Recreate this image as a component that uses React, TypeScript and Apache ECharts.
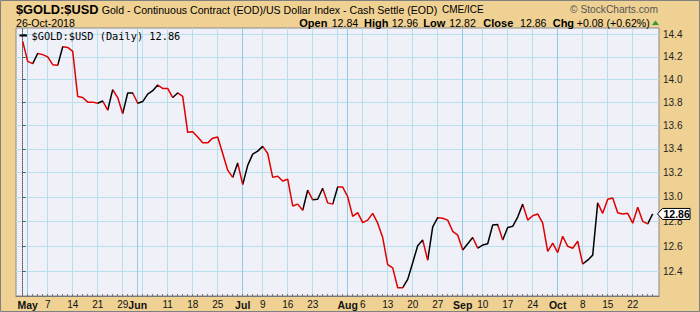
import { useEffect, useRef } from 'react';
import * as echarts from 'echarts';

// Daily closes, one per trading day from 30-Apr-2018 (index 0) to 26-Oct-2018 (index 126)
const closes = [
  14.34, 14.16, 14.14, 14.23, 14.22, 14.20, 14.13, 14.125, 14.29, 14.285,
  14.25, 13.85, 13.84, 13.80, 13.80, 13.79, 13.81, 13.73, 13.91, 13.84,
  13.70, 13.88, 13.88, 13.79, 13.805, 13.87, 13.90, 13.95, 13.92, 13.92,
  13.84, 13.88, 13.85, 13.54, 13.545, 13.50, 13.45, 13.45, 13.49, 13.50,
  13.36, 13.22, 13.16, 13.28, 13.10, 13.26, 13.355, 13.38, 13.42, 13.36,
  13.16, 13.17, 13.13, 13.145, 12.925, 12.94, 12.89, 13.055, 12.975, 12.98,
  13.07, 12.95, 12.94, 13.08, 13.08, 13.00, 12.84, 12.87, 12.79, 12.81,
  12.865, 12.785, 12.67, 12.455, 12.43, 12.275, 12.275, 12.34, 12.47, 12.605,
  12.65, 12.49, 12.755, 12.83, 12.825, 12.81, 12.72, 12.69, 12.57, 12.62,
  12.67, 12.585, 12.61, 12.62, 12.77, 12.775, 12.65, 12.75, 12.76, 12.835,
  12.94, 12.81, 12.845, 12.86, 12.785, 12.56, 12.625, 12.55, 12.68, 12.60,
  12.585, 12.64, 12.46, 12.49, 12.53, 12.95, 12.865, 12.98, 12.99, 12.87,
  12.86, 12.865, 12.785, 12.915, 12.80, 12.78, 12.86,
];

// Tone of each daily segment (segment k joins day k-1 to day k): r = down (red), k = up (black)
const segmentTone =
  'rrkrrrrkrr' + 'rrrrrkrkrr' + 'kkrkkkkrrr' + 'krrrrrrrrr' + 'rrkrkkkkrr' +
  'rrrrrrkrkk' + 'rrkrrrrrrr' + 'rrrrrrkkkk' + 'rkkrrrrrkk' + 'rkkkkrkkkk' +
  'rrrrrrrrrr' + 'rrkkkrrrrr' + 'rrrrrk';

// x-axis labels (trading-day index where each label sits)
const tickLabels = ['May', '7', '14', '21', '29', 'Jun', '11', '18', '25', 'Jul', '9', '16', '23',
  'Aug', '6', '13', '20', '27', 'Sep', '10', '17', '24', 'Oct', '8', '15', '22'];
const tickLabelIdx = [1, 5, 10, 15, 20, 23, 29, 34, 39, 44, 48, 53, 58,
  65, 68, 73, 78, 83, 88, 92, 97, 102, 107, 112, 117, 122];
const monthNames = ['May', 'Jun', 'Jul', 'Aug', 'Sep', 'Oct'];
const weekGridIdx = [5, 10, 15, 20, 24, 29, 34, 39, 48, 53, 58, 63, 68, 73, 78, 83, 92, 97, 102, 112, 117, 122];
const monthGridIdx = [1, 23, 44, 65, 88, 107];

// y-axis ticks
const priceTicks = [12.4, 12.6, 12.8, 13.0, 13.2, 13.4, 13.6, 13.8, 14.0, 14.2, 14.4];

// header
const symbolName = '$GOLD:$USD';
const description = 'Gold - Continuous Contract (EOD)/US Dollar Index - Cash Settle (EOD)';
const exchange = 'CME/ICE';
const dateText = '26-Oct-2018';
const quoteLabels = ['Open', 'High', 'Low', 'Close', 'Chg'];
const quoteValues = ['12.84', '12.96', '12.82', '12.86', '+0.08 (+0.62%)'];
const legendText = '$GOLD:$USD (Daily) 12.86';

const FONT = '"Liberation Sans", Arial, sans-serif';
const RED = '#e00000';
const BLACK = '#000000';

export default function App() {
  const ref = useRef<HTMLDivElement>(null);

  useEffect(() => {
    const el = ref.current!;
    const chart = echarts.init(el, null, { renderer: 'svg' });
    const n = closes.length;
    const data = closes.map((v, i) => [i, v]);
    const allIdx = closes.map((_, i) => i);

    const tones = segmentTone.split('');
    const pieces: any[] = [];
    let runStart = 1;
    for (let k = 1; k <= tones.length; k++) {
      const endRun = k === tones.length || tones[k] !== tones[k - 1];
      if (endRun) {
        pieces.push({ gt: runStart - 1, lte: k, color: tones[k - 1] === 'r' ? RED : BLACK });
        runStart = k + 1;
      }
    }
    pieces[0].gt = -100;
    pieces[pieces.length - 1].lte = 1000;

    const xMin = -1.34;
    const xMax = 127.26;

    const option: any = {
      animation: false,
      backgroundColor: '#efd193',
      grid: {
        left: 16, right: 41, top: 28, bottom: 16,
        show: true, backgroundColor: '#eff0f8', borderColor: '#8a8a8a', borderWidth: 1,
        outerBoundsMode: 'none',
      },
      visualMap: {
        type: 'piecewise', show: false, dimension: 0, seriesIndex: 0, pieces,
        outOfRange: { color: BLACK },
      },
      xAxis: [
        {
          type: 'value', min: xMin, max: xMax, position: 'bottom',
          axisLine: { show: false },
          axisTick: { show: false, customValues: weekGridIdx },
          splitLine: { show: true, lineStyle: { color: '#b6e0ee', width: 1 } },
          axisLabel: {
            show: true, customValues: tickLabelIdx, margin: 3,
            color: '#111', fontSize: 10, fontFamily: FONT,
            formatter: (v: number) => {
              const j = tickLabelIdx.indexOf(Math.round(v));
              if (j < 0) return '';
              const t = tickLabels[j];
              return monthNames.includes(t) ? '{m|' + t + '}' : t;
            },
            rich: { m: { fontWeight: 'bold', fontSize: 10.5, fontFamily: FONT, color: '#111' } },
          },
        },
        {
          type: 'value', min: xMin, max: xMax, position: 'top',
          axisLine: { show: false },
          axisTick: { show: false, customValues: monthGridIdx },
          axisLabel: { show: false },
          splitLine: { show: true, lineStyle: { color: '#8fcbe3', width: 1 } },
        },
        {
          type: 'value', min: xMin, max: xMax, position: 'bottom',
          axisLine: { show: true, lineStyle: { color: '#777', width: 1 } },
          axisTick: { show: true, inside: true, length: 2, customValues: allIdx, lineStyle: { color: '#777' } },
          axisLabel: { show: false },
          splitLine: { show: false },
        },
      ],
      yAxis: [
        {
          type: 'log', min: 12.211, max: 14.461, position: 'right',
          axisLine: { show: true, lineStyle: { color: '#555', type: 'dotted', width: 1 } },
          axisTick: { show: true, length: 3, customValues: priceTicks, lineStyle: { color: '#555' } },
          splitLine: { show: true, lineStyle: { color: '#b6e0ee', width: 1 } },
          axisLabel: {
            show: true, customValues: priceTicks, margin: 4,
            color: '#222', fontSize: 10, fontFamily: FONT,
            formatter: (v: number) => v.toFixed(1),
          },
        },
      ],
      series: [
        {
          type: 'line', data, xAxisIndex: 0, yAxisIndex: 0,
          symbol: 'none', showSymbol: false,
          lineStyle: { width: 1.5 }, z: 5,
        },
      ],
    };
    chart.setOption(option);

    const last = closes[n - 1];
    const py = chart.convertToPixel({ yAxisIndex: 0 }, last) as number;

    const headerMid1 = 9.5;
    const headerMid2 = 22.5;
    const graphic: any[] = [
      { type: 'rect', shape: { x: 0.5, y: 0.5, width: 699, height: 311 }, style: { fill: 'none', stroke: '#808080', lineWidth: 1 }, z: 100 },
      { type: 'text', x: 16, y: headerMid1, style: { text: symbolName, font: 'bold 12.8px ' + FONT, fill: '#000', verticalAlign: 'middle' } },
      { type: 'text', x: 101.7, y: headerMid1, style: { text: description, font: '10.6px ' + FONT, fill: '#000', verticalAlign: 'middle' } },
      { type: 'text', x: 442, y: headerMid1, style: { text: exchange, font: '10px ' + FONT, fill: '#000', verticalAlign: 'middle' } },
      { type: 'text', x: 658, y: 9, style: { text: '\u00A9 StockCharts.com', font: '10.2px ' + FONT, fill: '#555', align: 'right', verticalAlign: 'middle' } },
      { type: 'text', x: 16, y: headerMid2, style: { text: dateText, font: '10.6px ' + FONT, fill: '#000', verticalAlign: 'middle' } },
      { type: 'polygon', shape: { points: [[652, 25], [659, 25], [655.5, 20.5]] }, style: { fill: '#2f9a33' } },
      { type: 'line', shape: { x1: 19.5, y1: 35.5, x2: 27, y2: 35.5 }, style: { stroke: '#000', lineWidth: 2 }, z: 50 },
      { type: 'text', x: 31.5, y: 35.6, style: { text: legendText, font: '10.3px "DejaVu Sans Mono", monospace', fill: '#000', verticalAlign: 'middle' }, z: 50 },
      {
        type: 'polygon',
        shape: { points: [[657.5, py], [662.5, py - 5.5], [690, py - 5.5], [690, py + 5.5], [662.5, py + 5.5]] },
        style: { fill: '#fff', stroke: '#000', lineWidth: 1 }, z: 60,
      },
      { type: 'text', x: 663.5, y: py + 0.5, style: { text: last.toFixed(2), font: 'bold 10.5px ' + FONT, fill: '#000', verticalAlign: 'middle' }, z: 61 },
    ];
    const labelX = [299.3, 364, 423.3, 483.3, 552.7];
    const valueX = [331.7, 391.7, 449.3, 520, 576.7];
    quoteLabels.forEach((t, i) => {
      graphic.push({ type: 'text', x: labelX[i], y: headerMid2, style: { text: t, font: 'bold 11px ' + FONT, fill: '#000', verticalAlign: 'middle' } });
      graphic.push({ type: 'text', x: valueX[i], y: headerMid2, style: { text: quoteValues[i], font: '10.6px ' + FONT, fill: '#000', verticalAlign: 'middle' } });
    });
    chart.setOption({ graphic });

    return () => {
      chart.dispose();
    };
  }, []);

  return (
    <div
      ref={ref}
      style={{ position: 'fixed', left: 0, top: 0, width: 700, height: 312 }}
    />
  );
}
